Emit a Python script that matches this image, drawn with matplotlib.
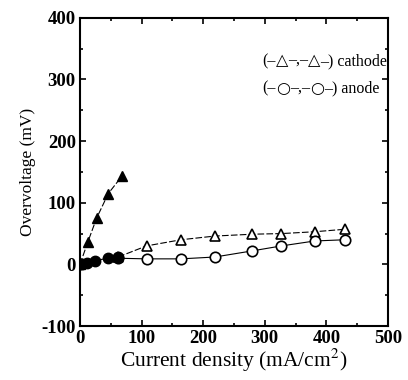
import matplotlib
matplotlib.use("Agg")
import matplotlib.pyplot as plt
from matplotlib.ticker import MultipleLocator
from matplotlib.offsetbox import TextArea, HPacker, AnnotationBbox

# Data (current density mA/cm2, overvoltage mV)
cath_fill_x = [0, 13, 27, 46, 68]
cath_fill_y = [0, 37, 75, 115, 143]
anode_fill_x = [0, 3, 12, 24, 45, 62]
anode_fill_y = [0, 0, 3, 6, 10, 12]
cath_open_x = [62, 108, 164, 219, 280, 327, 381, 430]
cath_open_y = [12, 30, 40, 46, 49, 50, 53, 57]
anode_open_x = [62, 108, 164, 219, 280, 327, 381, 430]
anode_open_y = [10, 9, 9, 12, 22, 30, 38, 40]

serif = ['Liberation Serif', 'DejaVu Sans']
plt.rcParams['font.family'] = serif
plt.rcParams['axes.unicode_minus'] = False
plt.rcParams['mathtext.fontset'] = 'stix'

fig = plt.figure(figsize=(4.08, 3.80), dpi=100)
ax = fig.add_axes([0.196, 0.142, 0.755, 0.811])

ms = 7.5
ax.plot(cath_open_x, cath_open_y, color='black', lw=0.8, dashes=(6, 2),
        marker='^', ms=ms, mfc='white', mec='black', mew=1.2, zorder=3)
ax.plot(anode_open_x, anode_open_y, color='black', lw=0.8,
        marker='o', ms=ms, mfc='white', mec='black', mew=1.2, zorder=3)
ax.plot(cath_fill_x, cath_fill_y, color='black', lw=0.8, dashes=(6, 2),
        marker='^', ms=ms, mfc='black', mec='black', zorder=4)
ax.plot(anode_fill_x, anode_fill_y, color='black', lw=0.8,
        marker='o', ms=ms, mfc='black', mec='black', zorder=4)

ax.set_xlim(0, 500)
ax.set_ylim(-100, 400)
ax.xaxis.set_major_locator(MultipleLocator(100))
ax.xaxis.set_minor_locator(MultipleLocator(50))
ax.yaxis.set_major_locator(MultipleLocator(100))
ax.yaxis.set_minor_locator(MultipleLocator(50))
ax.tick_params(which='both', direction='in', top=True, right=True, width=1.2)
ax.tick_params(which='major', length=4, labelsize=13.5, pad=3)
ax.tick_params(which='minor', length=2.5)
for lab in ax.get_xticklabels() + ax.get_yticklabels():
    lab.set_fontweight('bold')
for s in ax.spines.values():
    s.set_linewidth(1.5)

ax.set_xlabel('Current density (mA/cm$^2$)', fontsize=15.5, labelpad=0)
ax.set_ylabel('Overvoltage (mV)', fontsize=12.5, labelpad=4)

txt = dict(fontsize=11.5, family=['Liberation Serif'])
sym = dict(fontsize=11.5, family=['DejaVu Sans'])


def legend_line(symbol, label, y):
    parts = [TextArea('(–', textprops=txt), TextArea(symbol, textprops=sym),
             TextArea('–,–', textprops=txt), TextArea(symbol, textprops=sym),
             TextArea('–) ' + label, textprops=txt)]
    box = HPacker(children=parts, sep=0, pad=0, align='baseline')
    ab = AnnotationBbox(box, (296, y), xycoords='data', box_alignment=(0, 0.5),
                        frameon=False, pad=0)
    ax.add_artist(ab)


legend_line('△', 'cathode', 330)
legend_line('○', 'anode', 285)

fig.savefig('out.png', dpi=100)
